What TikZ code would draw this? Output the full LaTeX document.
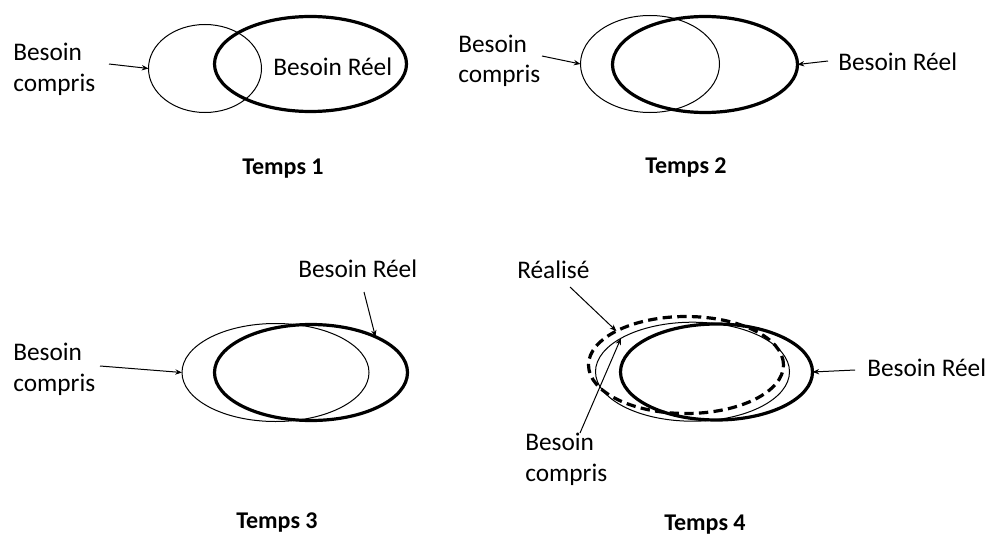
\documentclass[tikz,border=0pt]{standalone}
\usepackage{fontspec}
\setmainfont{Carlito}
\usetikzlibrary{shapes.geometric,arrows.meta}
\begin{document}
\begin{tikzpicture}[x=0.75pt,y=-0.75pt,
  ell/.style={ellipse,inner sep=0pt,outer sep=0pt},
  thinell/.style={ell,draw,line width=0.75pt},
  thickell/.style={ell,draw,line width=2.4pt},
  dashell/.style={ell,draw,line width=2.4pt,dash pattern=on 7pt off 4pt},
  lbl/.style={inner sep=0pt,font=\fontsize{19}{23}\selectfont,align=left},
  title/.style={inner sep=0pt,font=\fontsize{18}{21}\selectfont\bfseries},
  pointer/.style={line width=0.75pt,-{Stealth[length=5pt,width=4pt]}}]
\useasboundingbox (0,0) rectangle (988,535);
% Temps 1
\node[thinell,minimum width=84.75pt,minimum height=66pt] (c1) at (205,68.5) {};
\node[thickell,minimum width=144pt,minimum height=71.25pt] (r1) at (310.5,64) {};
\node[lbl,anchor=base west] (r1t) at (273,75) {Besoin Réel};
\node[lbl,anchor=base west] (c1t) at (13,91) {Besoin\\compris};
\coordinate (a1) at (109,64);
\draw[pointer] (a1) -- (c1.west);
\node[title,anchor=base] (t1) at (283,174) {Temps 1};
% Temps 2
\node[thinell,minimum width=104.25pt,minimum height=72.75pt] (c2) at (650,64) {};
\node[thickell,minimum width=138.75pt,minimum height=72pt] (r2) at (705,64.5) {};
\node[lbl,anchor=base west] (c2t) at (458,83) {Besoin\\compris};
\coordinate (a2) at (542,56);
\draw[pointer] (a2) -- (c2.west);
\node[lbl,anchor=base west] (r2t) at (838,70) {Besoin Réel};
\coordinate (b2) at (828,61);
\draw[pointer] (b2) -- (r2.east);
\node[title,anchor=base] (t2) at (686,173) {Temps 2};
% Temps 3
\node[thinell,minimum width=140.25pt,minimum height=73.5pt] (c3) at (275.5,372.5) {};
\node[thickell,minimum width=144.75pt,minimum height=72pt] (r3) at (311,372.5) {};
\node[lbl,anchor=base west] (r3t) at (298,277) {Besoin Réel};
\coordinate (b3) at (364,292);
\draw[pointer] (b3) -- (r3.29);
\node[lbl,anchor=base west] (c3t) at (13,391) {Besoin\\compris};
\coordinate (a3) at (100,366);
\draw[pointer] (a3) -- (c3.west);
\node[title,anchor=base] (t3) at (277,528) {Temps 3};
% Temps 4
\node[dashell,minimum width=146.25pt,minimum height=72.75pt] (d4) at (686,365) {};
\node[thinell,minimum width=145.5pt,minimum height=74.25pt] (c4) at (692.5,371.7) {};
\node[thickell,minimum width=144pt,minimum height=72pt] (r4) at (716.5,372) {};
\node[lbl,anchor=base west] (d4t) at (517,278) {Réalisé};
\coordinate (e4) at (570,287);
\draw[pointer] (e4) -- (d4.154);
\node[lbl,anchor=base west] (c4t) at (525,481) {Besoin\\compris};
\coordinate (a4) at (580,433);
\draw[pointer] (a4) -- (c4.155);
\node[lbl,anchor=base west] (r4t) at (867,376) {Besoin Réel};
\coordinate (b4) at (855,370);
\draw[pointer] (b4) -- (r4.east);
\node[title,anchor=base] (t4) at (705,530) {Temps 4};
\end{tikzpicture}
\end{document}
